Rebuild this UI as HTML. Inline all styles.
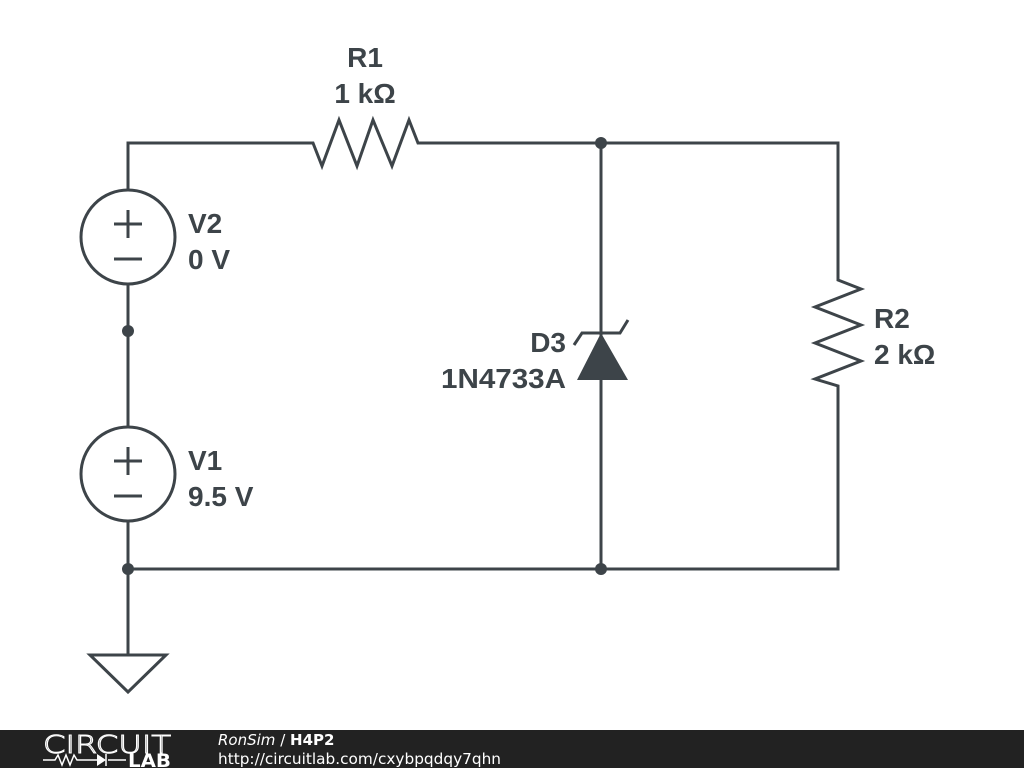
<!DOCTYPE html>
<html><head><style>
html,body{margin:0;padding:0;background:#fff;width:1024px;height:768px;overflow:hidden}
</style></head><body>
<svg width="1024" height="768" viewBox="0 0 1024 768" xmlns="http://www.w3.org/2000/svg" style="position:absolute;left:0;top:0">
<g fill="none" stroke="#3d4449" stroke-width="3" stroke-linejoin="miter">
<polyline points="128,190 128,143 313,143 322,166 339,120 357,166 373,120 392,166 409,120 418,143 838,143 838,280 861,289 815,307 861,325 815,343 861,361 815,379 838,386 838,569 128,569"/>
<line x1="128" y1="284" x2="128" y2="427"/>
<line x1="128" y1="521" x2="128" y2="655"/>
<line x1="601" y1="143" x2="601" y2="569"/>
<circle cx="128" cy="237" r="47"/>
<circle cx="128" cy="474" r="47"/>
<line x1="114" y1="224" x2="142" y2="224"/><line x1="128" y1="210" x2="128" y2="238"/>
<line x1="114" y1="259" x2="142" y2="259"/>
<line x1="114" y1="461" x2="142" y2="461"/><line x1="128" y1="447" x2="128" y2="475"/>
<line x1="114" y1="496" x2="142" y2="496"/>
<polygon points="90,655 166,655 128,692"/>
<polyline points="574,345 582,333 620,333 628,320"/>
</g>
<polygon points="601,333 577,380 628,380" fill="#3d4449"/>
<g fill="#3d4449">
<circle cx="601" cy="143" r="6"/><circle cx="601" cy="569" r="6"/>
<circle cx="128" cy="569" r="6"/><circle cx="128" cy="331" r="6"/>
</g>
<g font-family="Liberation Sans, sans-serif" font-weight="bold" font-size="28" fill="#3d4449">
<text x="365" y="67" text-anchor="middle">R1</text>
<text x="365" y="103" text-anchor="middle">1 kΩ</text>
<text x="188" y="233">V2</text><text x="188" y="269">0 V</text>
<text x="188" y="470">V1</text><text x="188" y="506">9.5 V</text>
<text x="566" y="352" text-anchor="end">D3</text>
<text x="566" y="388" text-anchor="end" textLength="125" lengthAdjust="spacingAndGlyphs">1N4733A</text>
<text x="874" y="328">R2</text><text x="874" y="364">2 kΩ</text>
</g>
<rect x="0" y="730" width="1024" height="38" fill="#222"/>
<g font-family="DejaVu Sans, Liberation Sans, sans-serif" fill="#fff">
<text x="43" y="753" font-size="25" font-weight="200" fill="none" stroke="#fff" stroke-width="1" textLength="128" lengthAdjust="spacingAndGlyphs">CIRCUIT</text>
<text x="128" y="767" font-size="19" font-weight="bold" textLength="43" lengthAdjust="spacingAndGlyphs">LAB</text>
<text x="218" y="745" font-size="15"><tspan font-style="italic">RonSim</tspan> / <tspan font-weight="bold">H4P2</tspan></text>
<text x="218" y="764" font-size="15" textLength="283" lengthAdjust="spacingAndGlyphs">http://circuitlab.com/cxybpqdqy7qhn</text>
</g>
<g stroke="#fff" stroke-width="1.5" fill="none">
<polyline points="43,760 55,760 58,755 62,765 66,755 70,765 74,755 77,760 97,760"/>
<line x1="108" y1="760" x2="126" y2="760"/>
<line x1="106" y1="754" x2="106" y2="766"/>
</g>
<polygon points="97,754 97,766 106,760" fill="#fff"/>
</svg>
</body></html>
